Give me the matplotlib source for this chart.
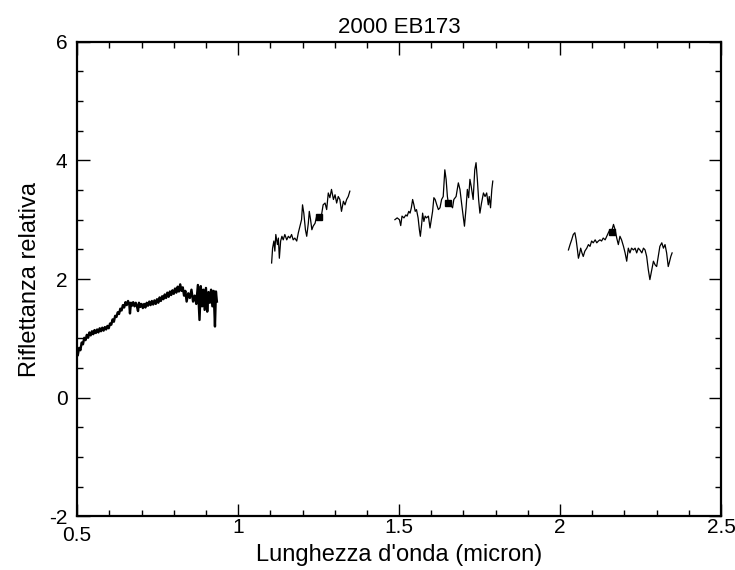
import numpy as np
import matplotlib.pyplot as plt
from matplotlib.ticker import MultipleLocator

plt.rcParams['font.family'] = ['Liberation Sans', 'DejaVu Sans']

# spettro visibile (0.5 - 0.93 micron)
vis_wl = [0.502, 0.506, 0.510, 0.514, 0.518, 0.522, 0.526, 0.530, 0.534, 0.538,
          0.542, 0.546, 0.550, 0.554, 0.558, 0.562, 0.566, 0.570, 0.574, 0.578,
          0.582, 0.586, 0.590, 0.594, 0.598, 0.602, 0.606, 0.610, 0.614, 0.618,
          0.622, 0.626, 0.630, 0.634, 0.638, 0.642, 0.646, 0.650, 0.654, 0.658,
          0.662, 0.664, 0.667, 0.670, 0.674, 0.678, 0.682, 0.686, 0.689, 0.692,
          0.696, 0.700, 0.704, 0.708, 0.712, 0.716, 0.720, 0.724, 0.728, 0.732,
          0.736, 0.740, 0.744, 0.748, 0.752, 0.756, 0.760, 0.764, 0.768, 0.772,
          0.776, 0.780, 0.784, 0.788, 0.792, 0.796, 0.800, 0.804, 0.808, 0.812,
          0.816, 0.820, 0.824, 0.828, 0.832, 0.836, 0.840, 0.845, 0.850, 0.855,
          0.860, 0.865, 0.870, 0.875, 0.880, 0.884, 0.888, 0.892, 0.896, 0.900,
          0.904, 0.908, 0.912, 0.916, 0.920, 0.924, 0.928, 0.931, 0.934]
vis_refl = [0.72, 0.84, 0.80, 0.93, 0.90, 1.01, 0.97, 1.06, 1.01, 1.10,
            1.05, 1.12, 1.07, 1.14, 1.09, 1.15, 1.10, 1.17, 1.12, 1.18,
            1.13, 1.19, 1.15, 1.21, 1.17, 1.25, 1.23, 1.32, 1.28, 1.38,
            1.36, 1.44, 1.41, 1.50, 1.47, 1.56, 1.52, 1.61, 1.56, 1.63,
            1.57, 1.42, 1.60, 1.55, 1.61, 1.54, 1.60, 1.53, 1.46, 1.60,
            1.53, 1.58, 1.51, 1.58, 1.52, 1.60, 1.55, 1.62, 1.56, 1.63,
            1.57, 1.64, 1.58, 1.66, 1.60, 1.69, 1.63, 1.71, 1.66, 1.74,
            1.68, 1.77, 1.70, 1.79, 1.73, 1.81, 1.75, 1.84, 1.77, 1.87,
            1.79, 1.91, 1.80, 1.86, 1.72, 1.80, 1.62, 1.76, 1.68, 1.82,
            1.62, 1.72, 1.58, 1.90, 1.31, 1.88, 1.54, 1.82, 1.48, 1.85,
            1.45, 1.78, 1.60, 1.82, 1.54, 1.80, 1.20, 1.79, 1.62]

# banda J
j_wl = [1.104, 1.107, 1.111, 1.114, 1.117, 1.122, 1.125, 1.128, 1.132, 1.136,
        1.140, 1.145, 1.151, 1.156, 1.161, 1.166, 1.171, 1.176, 1.182, 1.187,
        1.192, 1.197, 1.200, 1.204, 1.209, 1.213, 1.218, 1.221, 1.225, 1.229,
        1.233, 1.239, 1.244, 1.252, 1.259, 1.264, 1.270, 1.275, 1.280, 1.285,
        1.290, 1.296, 1.301, 1.306, 1.311, 1.316, 1.321, 1.327, 1.332, 1.337,
        1.342, 1.347]
j_refl = [2.27, 2.52, 2.64, 2.47, 2.75, 2.58, 2.69, 2.35, 2.64, 2.72,
          2.66, 2.75, 2.66, 2.72, 2.69, 2.75, 2.66, 2.69, 2.64, 2.78,
          2.89, 3.00, 3.25, 3.11, 2.83, 2.72, 2.94, 3.14, 3.00, 2.83,
          2.89, 2.94, 3.06, 3.04, 3.08, 3.25, 3.28, 3.17, 3.45, 3.37,
          3.51, 3.34, 3.42, 3.28, 3.39, 3.34, 3.14, 3.31, 3.25, 3.34,
          3.39, 3.48]

# banda H
h_wl = [1.487, 1.494, 1.501, 1.505, 1.509, 1.515, 1.521, 1.525, 1.530, 1.534,
        1.538, 1.542, 1.546, 1.550, 1.554, 1.559, 1.563, 1.566, 1.570, 1.573,
        1.577, 1.581, 1.585, 1.591, 1.596, 1.600, 1.604, 1.608, 1.612, 1.617,
        1.622, 1.627, 1.632, 1.637, 1.642, 1.646, 1.650, 1.653, 1.660, 1.666,
        1.670, 1.677, 1.684, 1.689, 1.694, 1.699, 1.703, 1.708, 1.712, 1.716,
        1.720, 1.724, 1.730, 1.735, 1.739, 1.743, 1.747, 1.751, 1.756, 1.762,
        1.767, 1.772, 1.777, 1.780, 1.784, 1.788, 1.791]
h_refl = [3.00, 3.03, 3.00, 2.90, 3.06, 3.03, 3.08, 3.06, 3.14, 3.11,
          3.20, 3.34, 3.25, 3.14, 3.17, 3.03, 2.83, 2.72, 2.92, 3.11,
          2.97, 3.06, 3.03, 3.06, 2.86, 3.00, 3.14, 3.37, 3.34, 3.25,
          3.17, 3.20, 3.34, 3.39, 3.84, 3.68, 3.39, 3.28, 3.25, 3.20,
          3.34, 3.39, 3.62, 3.51, 3.28, 3.06, 2.89, 3.20, 3.51, 3.37,
          3.68, 3.56, 3.34, 3.84, 3.96, 3.68, 3.34, 3.11, 3.28, 3.45,
          3.39, 3.45, 3.25, 3.39, 3.20, 3.51, 3.65]

# banda K
k_wl = [2.026, 2.031, 2.036, 2.041, 2.046, 2.050, 2.054, 2.057, 2.060, 2.064,
        2.068, 2.072, 2.077, 2.083, 2.088, 2.093, 2.098, 2.103, 2.109, 2.114,
        2.119, 2.124, 2.129, 2.134, 2.140, 2.145, 2.150, 2.155, 2.160, 2.166,
        2.171, 2.176, 2.181, 2.186, 2.191, 2.197, 2.202, 2.207, 2.212, 2.217,
        2.222, 2.228, 2.233, 2.238, 2.243, 2.248, 2.254, 2.259, 2.264, 2.269,
        2.274, 2.279, 2.285, 2.290, 2.295, 2.300, 2.305, 2.310, 2.316, 2.321,
        2.326, 2.331, 2.336, 2.339, 2.344, 2.348]
k_refl = [2.49, 2.58, 2.66, 2.75, 2.78, 2.66, 2.49, 2.35, 2.41, 2.52,
          2.44, 2.38, 2.47, 2.52, 2.58, 2.55, 2.64, 2.61, 2.66, 2.61,
          2.64, 2.66, 2.64, 2.69, 2.66, 2.72, 2.78, 2.83, 2.80, 2.92,
          2.83, 2.69, 2.58, 2.72, 2.66, 2.55, 2.44, 2.30, 2.52, 2.44,
          2.52, 2.49, 2.52, 2.44, 2.52, 2.49, 2.44, 2.52, 2.49, 2.38,
          2.16, 1.99, 2.16, 2.30, 2.24, 2.21, 2.38, 2.55, 2.61, 2.52,
          2.58, 2.44, 2.21, 2.27, 2.38, 2.44]

# punti fotometrici J, H, K
phot_wl = [1.252, 1.653, 2.160]
phot_refl = [3.04, 3.28, 2.80]

fig = plt.figure(figsize=(7.35, 5.7), dpi=100)
ax = fig.add_axes([0.105, 0.094, 0.876, 0.833])

ax.plot(vis_wl, vis_refl, color='black', lw=1.7)
ax.plot(j_wl, j_refl, color='black', lw=0.9)
ax.plot(h_wl, h_refl, color='black', lw=0.9)
ax.plot(k_wl, k_refl, color='black', lw=0.9)
ax.plot(phot_wl, phot_refl, 's', color='black', ms=5)

ax.set_xlim(0.5, 2.5)
ax.set_ylim(-2, 6)
ax.xaxis.set_major_locator(MultipleLocator(0.5))
ax.xaxis.set_minor_locator(MultipleLocator(0.1))
ax.yaxis.set_major_locator(MultipleLocator(2))
ax.yaxis.set_minor_locator(MultipleLocator(0.5))
ax.xaxis.set_major_formatter(plt.FuncFormatter(lambda v, p: '%g' % v))
ax.yaxis.set_major_formatter(plt.FuncFormatter(lambda v, p: '%g' % v))

ax.tick_params(which='both', direction='in', top=True, right=True, width=1, colors='black')
ax.tick_params(which='major', length=9)
ax.tick_params(which='minor', length=4.5)
ax.tick_params(axis='x', which='major', pad=1, labelsize=15)
ax.tick_params(axis='y', which='major', pad=7, labelsize=15)
for s in ax.spines.values():
    s.set_linewidth(1.6)

ax.set_title('2000 EB173', fontsize=16, pad=6)
ax.set_xlabel("Lunghezza d'onda (micron)", fontsize=17)
ax.set_ylabel('Riflettanza relativa', fontsize=17, labelpad=6)
ax.xaxis.set_label_coords(0.5, -0.058)

# l'etichetta 0.5 sta piu' in basso, come nell'originale
fig.canvas.draw()
for t in ax.xaxis.get_major_ticks():
    if abs(t.get_loc() - 0.5) < 1e-6:
        t.set_pad(7)

fig.savefig('out.png', dpi=100)
